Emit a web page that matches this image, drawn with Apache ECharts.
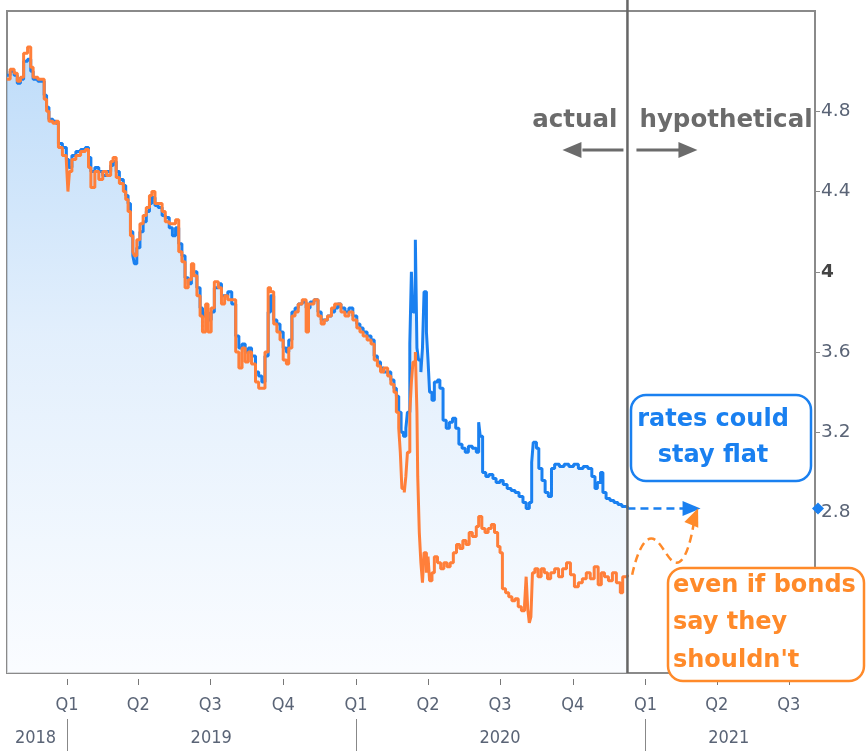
<!DOCTYPE html>
<html><head><meta charset="utf-8">
<script src="https://cdn.jsdelivr.net/npm/echarts@6/dist/echarts.min.js"></script>
<style>html,body{margin:0;padding:0;background:#fff}#c{width:866px;height:751px}</style>
</head><body><div id="c"></div>
<script>
// ---------- DATA ----------
const blueDates = ['2018-10-17','2018-10-21','2018-10-26','2018-10-30','2018-11-03','2018-11-07','2018-11-12','2018-11-16','2018-11-19','2018-11-25','2018-11-30','2018-12-03','2018-12-06','2018-12-09','2018-12-14','2018-12-18','2018-12-21','2018-12-26','2018-12-31','2019-01-03','2019-01-07','2019-01-12','2019-01-18','2019-01-24','2019-01-28','2019-01-31','2019-02-05','2019-02-10','2019-02-15','2019-02-20','2019-02-25','2019-02-28','2019-03-04','2019-03-08','2019-03-13','2019-03-16','2019-03-19','2019-03-22','2019-03-25','2019-03-27','2019-03-30','2019-04-03','2019-04-07','2019-04-11','2019-04-15','2019-04-18','2019-04-22','2019-04-26','2019-05-01','2019-05-05','2019-05-10','2019-05-14','2019-05-18','2019-05-22','2019-05-26','2019-05-30','2019-06-03','2019-06-07','2019-06-10','2019-06-14','2019-06-18','2019-06-21','2019-06-25','2019-06-28','2019-07-02','2019-07-06','2019-07-11','2019-07-15','2019-07-19','2019-07-23','2019-07-28','2019-08-02','2019-08-06','2019-08-10','2019-08-14','2019-08-18','2019-08-22','2019-08-27','2019-08-31','2019-09-04','2019-09-08','2019-09-12','2019-09-15','2019-09-19','2019-09-23','2019-09-27','2019-10-01','2019-10-05','2019-10-08','2019-10-12','2019-10-16','2019-10-20','2019-10-25','2019-10-30','2019-11-04','2019-11-09','2019-11-14','2019-11-18','2019-11-22','2019-11-26','2019-12-01','2019-12-05','2019-12-09','2019-12-13','2019-12-18','2019-12-23','2019-12-28','2020-01-02','2020-01-06','2020-01-10','2020-01-15','2020-01-20','2020-01-24','2020-01-28','2020-02-01','2020-02-05','2020-02-10','2020-02-14','2020-02-18','2020-02-21','2020-02-24','2020-02-27','2020-03-01','2020-03-04','2020-03-06','2020-03-09','2020-03-11','2020-03-13','2020-03-16','2020-03-18','2020-03-20','2020-03-23','2020-03-25','2020-03-27','2020-03-30','2020-04-01','2020-04-03','2020-04-06','2020-04-09','2020-04-13','2020-04-16','2020-04-20','2020-04-24','2020-04-28','2020-05-02','2020-05-06','2020-05-10','2020-05-14','2020-05-18','2020-05-22','2020-05-27','2020-06-01','2020-06-04','2020-06-06','2020-06-09','2020-06-13','2020-06-17','2020-06-22','2020-06-26','2020-07-01','2020-07-05','2020-07-10','2020-07-15','2020-07-20','2020-07-25','2020-07-30','2020-08-03','2020-08-07','2020-08-10','2020-08-12','2020-08-16','2020-08-19','2020-08-23','2020-08-27','2020-08-31','2020-09-04','2020-09-08','2020-09-14','2020-09-20','2020-09-26','2020-10-02','2020-10-08','2020-10-14','2020-10-20','2020-10-25','2020-10-29','2020-11-01','2020-11-05','2020-11-08','2020-11-12','2020-11-17','2020-11-22','2020-11-27','2020-12-02','2020-12-09'];
const blueRates = [4.98,5.00,4.98,4.94,4.96,5.05,5.06,5.00,4.96,4.95,4.95,4.88,4.82,4.76,4.75,4.74,4.64,4.62,4.56,4.52,4.58,4.60,4.61,4.62,4.57,4.50,4.52,4.50,4.48,4.50,4.53,4.55,4.50,4.46,4.43,4.38,4.34,4.20,4.08,4.04,4.12,4.20,4.25,4.30,4.34,4.37,4.33,4.32,4.28,4.27,4.22,4.18,4.22,4.14,4.08,3.97,3.94,4.00,4.00,3.92,3.82,3.78,3.80,3.76,3.80,3.92,3.94,3.88,3.88,3.90,3.84,3.68,3.62,3.64,3.60,3.62,3.58,3.50,3.48,3.45,3.58,3.80,3.88,3.76,3.74,3.70,3.62,3.60,3.66,3.80,3.82,3.84,3.85,3.82,3.85,3.86,3.80,3.76,3.76,3.78,3.80,3.82,3.84,3.82,3.80,3.82,3.78,3.74,3.72,3.70,3.68,3.66,3.58,3.55,3.52,3.50,3.50,3.46,3.42,3.38,3.30,3.20,3.18,3.22,3.30,3.64,4.00,3.80,4.16,3.62,3.56,3.50,3.62,3.90,3.70,3.56,3.40,3.36,3.45,3.46,3.42,3.26,3.22,3.25,3.27,3.22,3.14,3.12,3.10,3.13,3.12,3.10,3.25,3.18,3.00,2.98,2.99,2.97,2.95,2.96,2.94,2.92,2.91,2.90,2.88,2.85,2.82,2.85,3.05,3.15,3.12,3.02,2.96,2.90,2.88,3.02,3.04,3.03,3.04,3.03,3.04,3.02,3.03,3.02,2.98,2.92,2.95,3.00,2.90,2.87,2.86,2.85,2.84,2.83,2.82];

const orangeDates = ['2018-10-17','2018-10-21','2018-10-26','2018-10-30','2018-11-03','2018-11-07','2018-11-12','2018-11-16','2018-11-19','2018-11-25','2018-11-30','2018-12-03','2018-12-06','2018-12-09','2018-12-14','2018-12-18','2018-12-21','2018-12-26','2018-12-31','2019-01-02','2019-01-04','2019-01-07','2019-01-12','2019-01-18','2019-01-24','2019-01-28','2019-01-31','2019-02-05','2019-02-10','2019-02-15','2019-02-20','2019-02-25','2019-02-28','2019-03-04','2019-03-08','2019-03-13','2019-03-16','2019-03-19','2019-03-22','2019-03-25','2019-03-27','2019-03-30','2019-04-03','2019-04-07','2019-04-11','2019-04-15','2019-04-18','2019-04-22','2019-04-26','2019-05-01','2019-05-05','2019-05-10','2019-05-14','2019-05-18','2019-05-22','2019-05-26','2019-05-30','2019-06-03','2019-06-07','2019-06-10','2019-06-14','2019-06-18','2019-06-21','2019-06-25','2019-06-28','2019-07-02','2019-07-06','2019-07-11','2019-07-15','2019-07-19','2019-07-23','2019-07-28','2019-08-02','2019-08-06','2019-08-10','2019-08-14','2019-08-18','2019-08-22','2019-08-27','2019-08-31','2019-09-04','2019-09-08','2019-09-12','2019-09-15','2019-09-19','2019-09-23','2019-09-27','2019-10-01','2019-10-05','2019-10-08','2019-10-12','2019-10-16','2019-10-20','2019-10-25','2019-10-30','2019-11-02','2019-11-09','2019-11-14','2019-11-18','2019-11-22','2019-11-26','2019-12-01','2019-12-05','2019-12-09','2019-12-13','2019-12-18','2019-12-23','2019-12-28','2020-01-02','2020-01-06','2020-01-10','2020-01-15','2020-01-20','2020-01-24','2020-01-28','2020-02-01','2020-02-05','2020-02-10','2020-02-14','2020-02-18','2020-02-21','2020-02-24','2020-02-26','2020-02-28','2020-03-02','2020-03-04','2020-03-06','2020-03-09','2020-03-11','2020-03-13','2020-03-16','2020-03-18','2020-03-19','2020-03-21','2020-03-23','2020-03-25','2020-03-27','2020-03-30','2020-04-01','2020-04-03','2020-04-06','2020-04-09','2020-04-13','2020-04-17','2020-04-21','2020-04-25','2020-04-29','2020-05-03','2020-05-07','2020-05-11','2020-05-15','2020-05-19','2020-05-23','2020-05-27','2020-06-01','2020-06-04','2020-06-08','2020-06-12','2020-06-16','2020-06-20','2020-06-24','2020-06-28','2020-07-01','2020-07-04','2020-07-08','2020-07-12','2020-07-16','2020-07-20','2020-07-24','2020-07-28','2020-08-01','2020-08-03','2020-08-05','2020-08-07','2020-08-09','2020-08-11','2020-08-14','2020-08-18','2020-08-22','2020-08-26','2020-08-30','2020-09-03','2020-09-08','2020-09-13','2020-09-18','2020-09-23','2020-09-28','2020-10-03','2020-10-08','2020-10-13','2020-10-18','2020-10-23','2020-10-28','2020-11-02','2020-11-06','2020-11-10','2020-11-15','2020-11-20','2020-11-25','2020-11-30','2020-12-03','2020-12-09'];
const orangeRates = [4.96,5.01,4.99,4.95,4.97,5.09,5.12,5.02,4.97,4.96,4.96,4.86,4.80,4.75,4.74,4.75,4.62,4.58,4.55,4.40,4.50,4.56,4.58,4.60,4.61,4.52,4.42,4.50,4.46,4.50,4.48,4.55,4.57,4.47,4.44,4.40,4.36,4.30,4.18,4.10,4.08,4.16,4.24,4.28,4.32,4.38,4.40,4.34,4.34,4.30,4.25,4.24,4.24,4.26,4.10,4.05,3.92,3.96,4.04,3.98,3.88,3.78,3.70,3.84,3.70,3.82,3.95,3.92,3.84,3.88,3.86,3.86,3.60,3.52,3.62,3.55,3.60,3.54,3.45,3.42,3.42,3.60,3.92,3.90,3.74,3.70,3.66,3.56,3.54,3.62,3.78,3.80,3.84,3.86,3.70,3.84,3.86,3.78,3.74,3.76,3.78,3.82,3.84,3.84,3.80,3.78,3.80,3.76,3.72,3.70,3.68,3.66,3.64,3.56,3.53,3.50,3.52,3.48,3.44,3.40,3.30,3.22,3.10,2.92,2.90,2.98,3.10,3.30,3.45,3.55,3.60,3.30,2.98,2.70,2.55,2.45,2.60,2.50,2.58,2.46,2.50,2.58,2.55,2.52,2.55,2.53,2.55,2.60,2.64,2.62,2.66,2.64,2.70,2.68,2.73,2.78,2.72,2.70,2.72,2.74,2.70,2.63,2.60,2.42,2.40,2.38,2.36,2.37,2.33,2.31,2.34,2.48,2.32,2.25,2.28,2.50,2.52,2.48,2.52,2.50,2.47,2.50,2.52,2.48,2.52,2.55,2.49,2.43,2.45,2.47,2.50,2.47,2.53,2.44,2.50,2.48,2.46,2.50,2.45,2.40,2.48,2.49];

// hypothetical paths
const flatDates = ['2020-12-09','2021-02-28'];
const flatRates = [2.82, 2.82];
const bondPathDates = ['2020-12-15','2021-01-08','2021-02-09','2021-03-04'];
const bondPathRates = [2.49, 2.67, 2.55, 2.78];

// axes
const xStart = '2018-10-17', xEnd = '2021-08-03';
const dividerDate = '2020-12-09';
const quarterTicks = ['2019-01-01','2019-04-01','2019-07-01','2019-10-01','2020-01-01','2020-04-01','2020-07-01','2020-10-01','2021-01-01','2021-04-01','2021-07-01'];
const yearTicks = ['2019-01-01','2020-01-01','2021-01-01'];
const yearLabelDates = ['2018-11-22','2019-07-02','2020-07-01','2021-04-16'];
const yTicks = [2.8, 3.2, 3.6, 4, 4.4, 4.8];

// ---------- CHART ----------
function ts(s){const p=s.split('-').map(Number);return new Date(p[0],p[1]-1,p[2]).getTime();}
function zip(a,b){return a.map((d,i)=>[ts(d),b[i]]);}
const BLUE='#1a80f0', ORANGE='#ff7f3a', AX='#8a8a8a', LBL='#5a6476';
const chart = echarts.init(document.getElementById('c'), null, {renderer:'canvas'});

const flatData = zip(flatDates, flatRates);
flatData[flatData.length-1] = {value: flatData[flatData.length-1], symbol:'triangle', symbolSize:[15,18], symbolRotate:-90, itemStyle:{color:BLUE}};
const bondData = zip(bondPathDates, bondPathRates);
bondData[bondData.length-1] = {value: bondData[bondData.length-1], symbol:'triangle', symbolSize:[15,18], symbolRotate:-22, itemStyle:{color:'#ff8a2a'}};

const option = {
  animation:false,
  backgroundColor:'#fff',
  grid:{left:7,right:51,top:11,bottom:78,show:true,borderColor:AX,borderWidth:2,backgroundColor:'transparent'},
  xAxis:[{
    type:'value', min:ts(xStart), max:ts(xEnd), position:'bottom', offset:6,
    axisLine:{show:false}, splitLine:{show:false},
    axisTick:{show:true,length:6,customValues:quarterTicks.map(ts),lineStyle:{color:'#777',width:1}},
    axisLabel:{customValues:quarterTicks.map(ts),margin:17,hideOverlap:false,fontFamily:'DejaVu Sans Condensed',fontSize:18,color:LBL,
      formatter:v=>'Q'+(Math.floor(new Date(v).getMonth()/3)+1)}
  },{
    type:'value', min:ts(xStart), max:ts(xEnd), position:'bottom', offset:46,
    axisLine:{show:false}, splitLine:{show:false},
    axisTick:{show:true,length:32,customValues:yearTicks.map(ts),lineStyle:{color:'#888',width:1}},
    axisLabel:{customValues:yearLabelDates.map(ts),margin:10,hideOverlap:false,fontFamily:'DejaVu Sans Condensed',fontSize:18,color:LBL,
      formatter:v=>String(new Date(v).getFullYear())}
  }],
  yAxis:{
    type:'value', position:'right', min:2, max:5.3, interval:0.4,
    splitLine:{show:false},
    axisLine:{show:true,lineStyle:{color:AX,width:2}},
    axisTick:{show:true,length:5,customValues:yTicks,lineStyle:{color:AX}},
    axisLabel:{customValues:yTicks,margin:6,fontFamily:'DejaVu Sans',fontSize:18.5,color:LBL,
      formatter:v=> (Math.abs(v-4)<1e-9 ? '{b|4}' : String(+v.toFixed(1))),
      rich:{b:{fontFamily:'DejaVu Sans',fontSize:18.5,fontWeight:'bold',color:'#444'}}}
  },
  series:[
    {type:'line',name:'rates',data:zip(blueDates,blueRates),step:'end',symbol:'none',z:2,
      lineStyle:{color:BLUE,width:3},
      areaStyle:{color:new echarts.graphic.LinearGradient(0,0,0,1,[{offset:0,color:'#a4cef7'},{offset:0.45,color:'#d6e8fb'},{offset:1,color:'#f8fbff'}])}},
    {type:'line',name:'bonds',data:zip(orangeDates,orangeRates),step:'end',symbol:'none',z:3,
      lineStyle:{color:ORANGE,width:3}},
    {type:'line',name:'flat',data:flatData,symbol:'none',showSymbol:true,z:4,
      lineStyle:{color:BLUE,width:2.5,type:[8,5]}},
    {type:'line',name:'bondpath',data:bondData,symbol:'none',showSymbol:true,smooth:0.5,z:4,
      lineStyle:{color:'#ff8a2a',width:2.5,type:[8,5]}}
  ]
};
chart.setOption(option);

const gx = chart.convertToPixel({xAxisIndex:0}, ts(dividerDate));
const gyLast = chart.convertToPixel({yAxisIndex:0}, blueRates[blueRates.length-1]);
const gridRight = 866-51, gridBottom = 751-78;
const GRAY='#6b6b6b';
const boldFont = 'bold 24.5px "DejaVu Sans"';
chart.setOption({graphic:[
  {type:'line',z:100,shape:{x1:gx,y1:0,x2:gx,y2:gridBottom},style:{stroke:'#666',lineWidth:2.5}},
  {type:'text',z:100,x:gx-10,y:121,style:{text:'actual',align:'right',verticalAlign:'middle',font:boldFont,fill:GRAY}},
  {type:'text',z:100,x:gx+12,y:121,style:{text:'hypothetical',align:'left',verticalAlign:'middle',font:boldFont,fill:GRAY}},
  {type:'line',z:100,shape:{x1:gx-45,y1:150,x2:gx-4,y2:150},style:{stroke:GRAY,lineWidth:3}},
  {type:'polygon',z:100,shape:{points:[[gx-65,150],[gx-46,142],[gx-46,158]]},style:{fill:GRAY}},
  {type:'line',z:100,shape:{x1:gx+9,y1:150,x2:gx+52,y2:150},style:{stroke:GRAY,lineWidth:3}},
  {type:'polygon',z:100,shape:{points:[[gx+70,150],[gx+51,142],[gx+51,158]]},style:{fill:GRAY}},
  {type:'polygon',z:100,shape:{points:[[gridRight-3,gyLast],[gridRight+3,gyLast-6],[gridRight+9,gyLast],[gridRight+3,gyLast+6]]},style:{fill:BLUE}},
  {type:'rect',z:101,shape:{x:631,y:395,width:180,height:86,r:15},style:{fill:'#fff',stroke:BLUE,lineWidth:2.5}},
  {type:'text',z:102,x:713,y:438,style:{text:'rates could\nstay flat',align:'center',verticalAlign:'middle',lineHeight:36,font:'bold 24px "DejaVu Sans"',fill:BLUE}},
  {type:'rect',z:101,shape:{x:668,y:568,width:196,height:113,r:15},style:{fill:'#fff',stroke:'#ff8a2a',lineWidth:2.5}},
  {type:'text',z:102,x:673,y:623,style:{text:"even if bonds\nsay they\nshouldn't",align:'left',verticalAlign:'middle',lineHeight:37.5,font:'bold 24px "DejaVu Sans"',fill:'#ff8a2a'}}
]});
</script>
</body></html>
